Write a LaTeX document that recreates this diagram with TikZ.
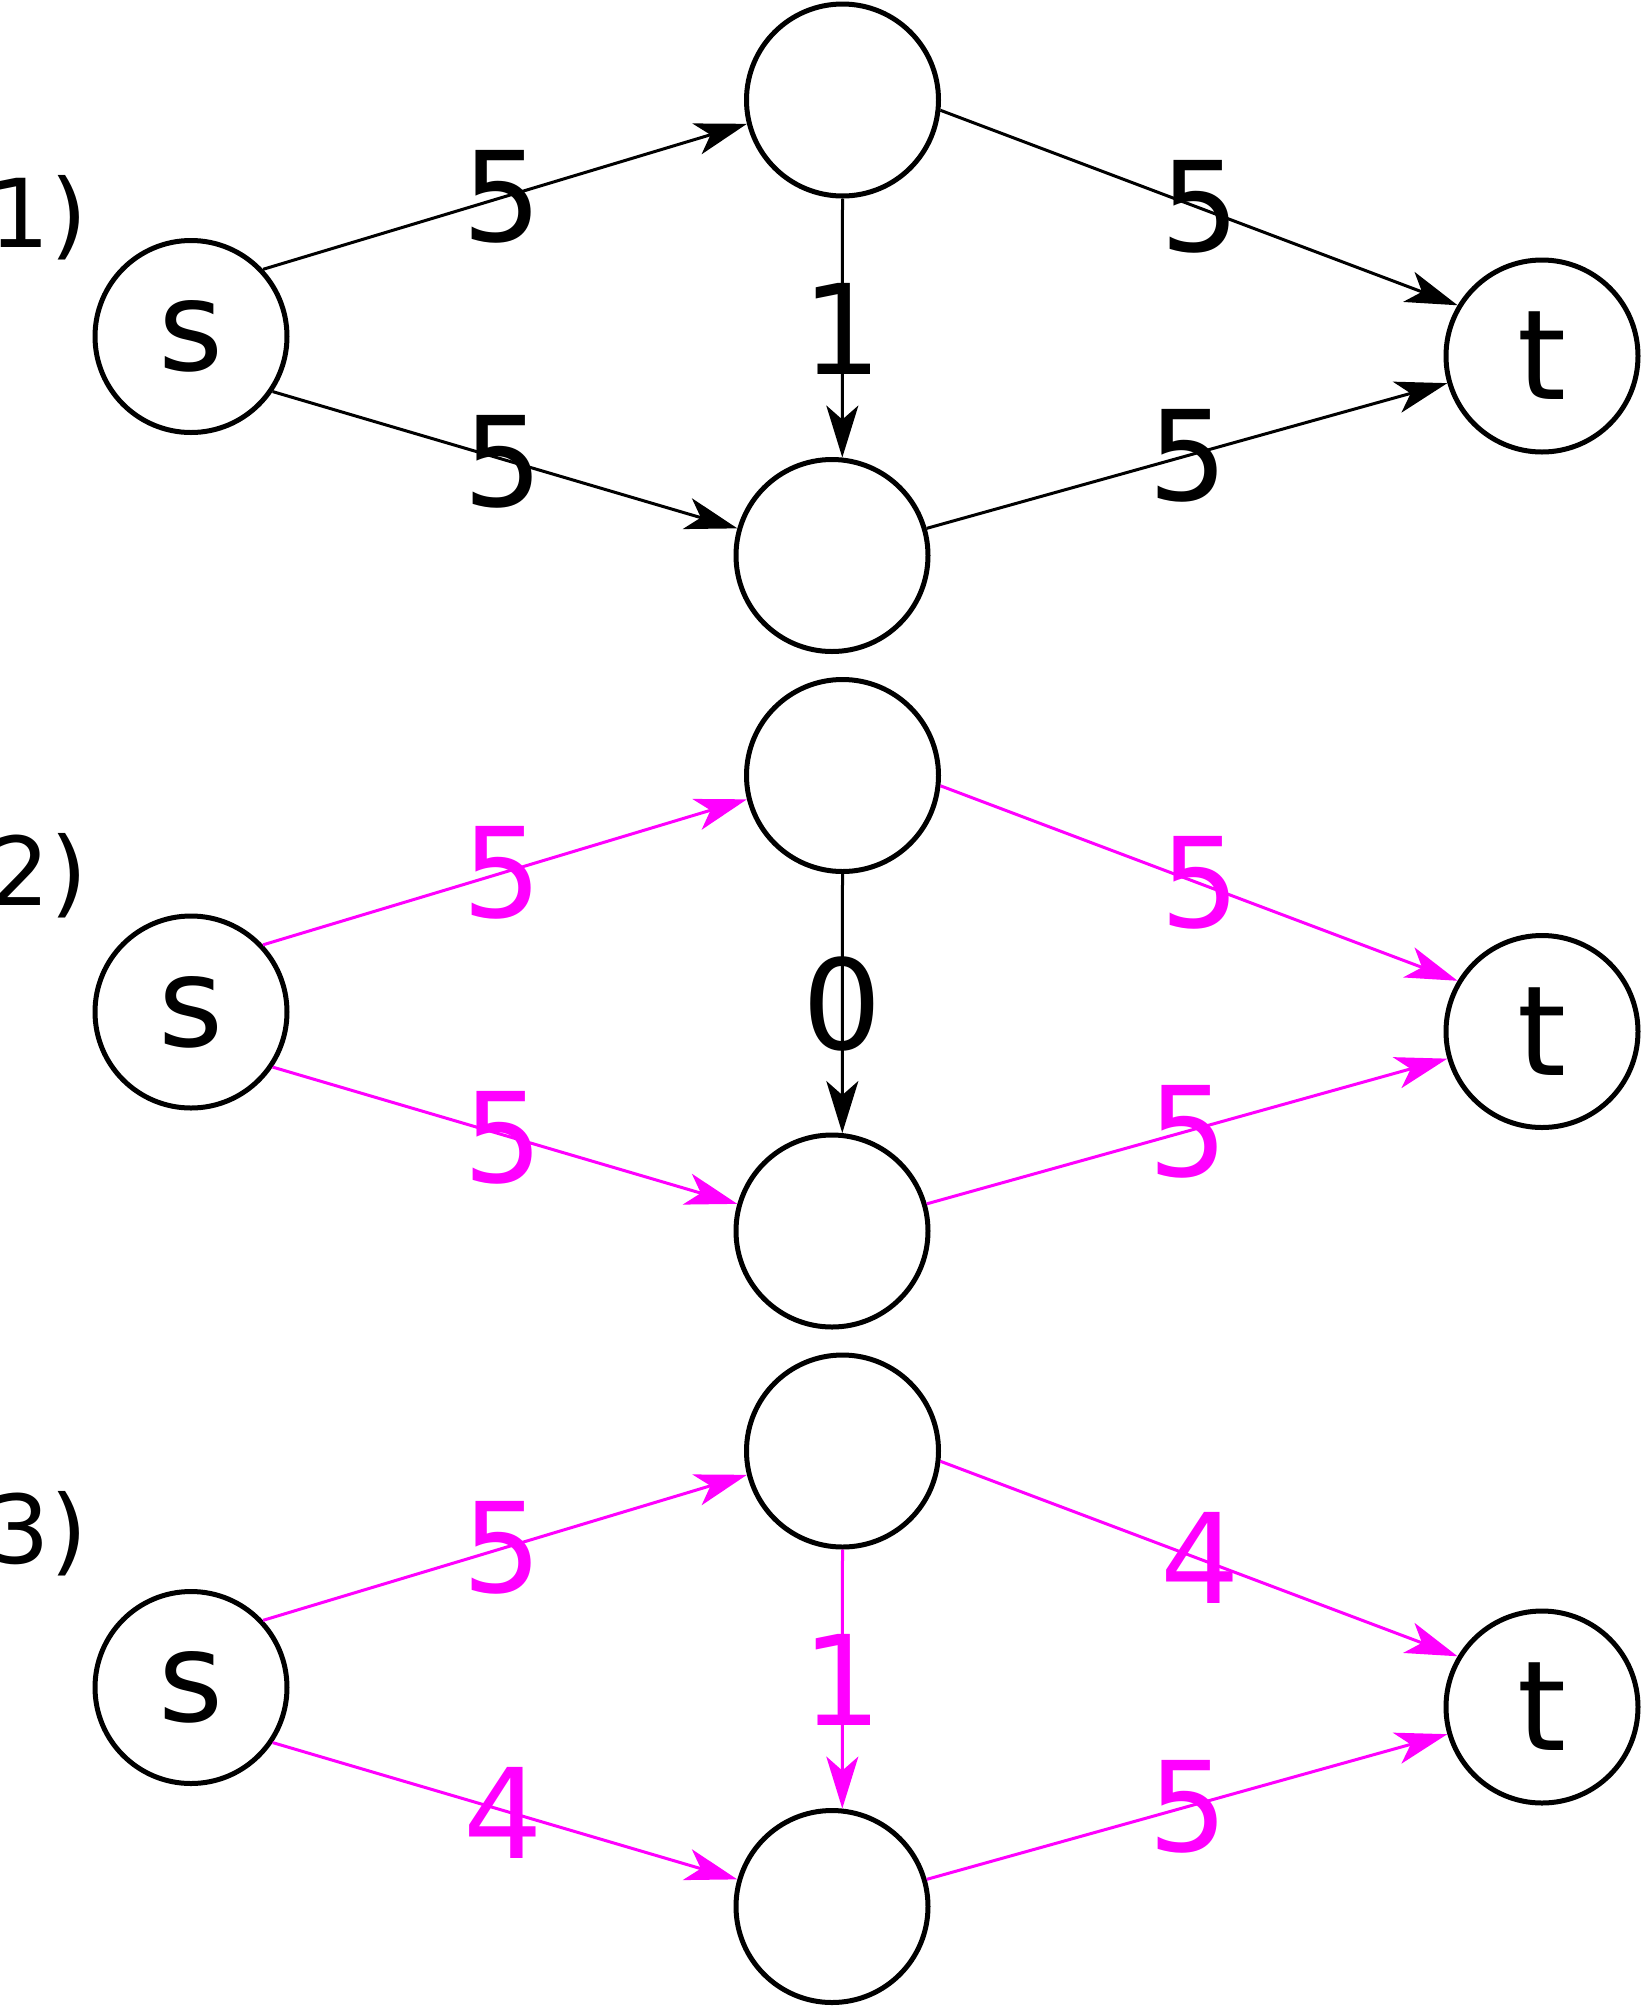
\documentclass[tikz,border=0pt]{standalone}
\usepackage{fontspec}
\setmainfont{DejaVu Sans}
\usetikzlibrary{arrows.meta}
\definecolor{flowpink}{HTML}{FF00FF}
\newcommand{\nodefont}{\fontsize{125pt}{150pt}\selectfont}
\newcommand{\stepfont}{\fontsize{95pt}{114pt}\selectfont}

\begin{document}
\begin{tikzpicture}[
    x=1pt, y=-1pt,
    vertex/.style={circle, draw=black, line width=5pt, minimum size=192pt, inner sep=0pt, font=\nodefont},
    flow/.style={line width=3pt, -{Stealth[length=52pt, width=32pt, inset=14pt]}},
    weight/.style={font=\nodefont, inner sep=0pt},
    steplabel/.style={font=\stepfont, anchor=base west, inner sep=0pt},
]
\useasboundingbox (0,0) rectangle (1642,2006);
% step labels
\foreach \k in {1,2,3} {
    \node[steplabel] (step\k) at ({-10.5}, {247+(\k-1)*658}) {\k)};
}
% one network per step: edge colours, then capacities
\foreach \k/\colSA/\colSB/\colAB/\colAT/\colBT/\capSA/\capSB/\capAB/\capAT/\capBT in {
    1/black/black/black/black/black/5/5/1/5/5,
    2/flowpink/flowpink/black/flowpink/flowpink/5/5/0/5/5,
    3/flowpink/flowpink/flowpink/flowpink/flowpink/5/4/1/4/5} {
  \begin{scope}[yshift={-(\k-1)*675.5pt}]
    \node[vertex] (s\k) at (191,336.5) {s};
    \node[vertex] (a\k) at (842.5,100) {};
    \node[vertex] (b\k) at (832,555.5) {};
    \node[vertex] (t\k) at (1542,356) {t};
    \draw[flow, \colSA] (s\k.43.5) -- (a\k.194);
    \draw[flow, \colSB] (s\k.-34.7) -- (b\k.164.5);
    \draw[flow, \colAB] (a\k.south) -- (b\k.84);
    \draw[flow, \colAT] (a\k.-6.5) -- (t\k.149);
    \draw[flow, \colBT] (b\k.16.4) -- (t\k.196.6);
    \node[weight, \colSA] (wsa\k) at (502,197) {\capSA};
    \node[weight, \colSB] (wsb\k) at (503,462) {\capSB};
    \node[weight, \colAB] (wab\k) at (842,328.5) {\capAB};
    \node[weight, \colAT] (wat\k) at (1200,207) {\capAT};
    \node[weight, \colBT] (wbt\k) at (1188,456) {\capBT};
  \end{scope}
}
\end{tikzpicture}
\end{document}
